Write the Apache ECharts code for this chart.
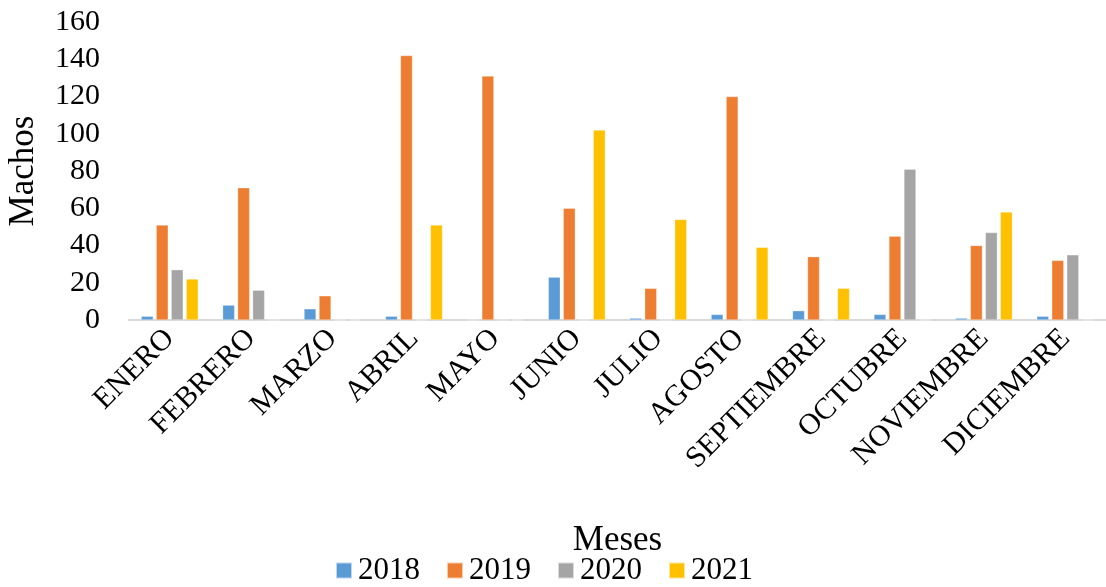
<!DOCTYPE html>
<html>
<head>
<meta charset="utf-8">
<script src="https://cdn.jsdelivr.net/npm/echarts@6/dist/echarts.min.js"></script>
<style>
  html, body { margin: 0; padding: 0; background: #fff; }
  #chart { width: 1106px; height: 587px; }
</style>
</head>
<body>
<div id="chart"></div>
<script>
// Monthly counts of males per year
const months = ['ENERO', 'FEBRERO', 'MARZO', 'ABRIL', 'MAYO', 'JUNIO', 'JULIO',
  'AGOSTO', 'SEPTIEMBRE', 'OCTUBRE', 'NOVIEMBRE', 'DICIEMBRE'];
const years = ['2018', '2019', '2020', '2021'];
const v2018 = [2, 8, 6, 2, 0, 23, 1, 3, 5, 3, 1, 2];
const v2019 = [51, 71, 13, 142, 131, 60, 17, 120, 34, 45, 40, 32];
const v2020 = [27, 16, 0, 0, 0, 0, 0, 0, 0, 81, 47, 35];
const v2021 = [22, 0, 0, 51, 0, 102, 54, 39, 17, 0, 58, 0];
const colors = ['#5B9BD5', '#ED7D31', '#A5A5A5', '#FFC000'];

const serif = '"Liberation Serif", "DejaVu Serif", serif';
const chart = echarts.init(document.getElementById('chart'), null, { renderer: 'canvas' });

const seriesData = [v2018, v2019, v2020, v2021];
chart.setOption({
  animation: false,
  color: colors,
  textStyle: { fontFamily: serif, color: '#000' },
  grid: {
    left: 129, right: 0, top: 22, bottom: 267,
    containLabel: false,
    outerBoundsMode: 'none'
  },
  legend: {
    data: years,
    top: 555,
    left: 335,
    itemWidth: 16,
    itemHeight: 16,
    itemGap: 26,
    padding: 0,
    icon: 'rect',
    textStyle: { fontFamily: serif, fontSize: 31, color: '#000', padding: [0, 0, 0, 1] }
  },
  xAxis: {
    type: 'category',
    data: months,
    name: 'Meses',
    nameLocation: 'middle',
    nameGap: 203,
    nameTextStyle: { fontFamily: serif, fontSize: 35, color: '#000' },
    axisLine: { lineStyle: { color: '#d9d9d9', width: 2 } },
    axisTick: { show: false },
    axisLabel: {
      rotate: 45,
      interval: 0,
      margin: 14,
      fontFamily: serif,
      fontSize: 30,
      color: '#000'
    }
  },
  yAxis: {
    type: 'value',
    min: 0,
    max: 160,
    interval: 20,
    name: 'Machos',
    nameLocation: 'middle',
    nameGap: 88,
    nameTextStyle: { fontFamily: serif, fontSize: 35, color: '#000' },
    splitLine: { show: false },
    axisLine: { show: false },
    axisTick: { show: false },
    axisLabel: { fontFamily: serif, fontSize: 30, color: '#000', margin: 29 }
  },
  series: years.map((y, i) => ({
    name: y,
    type: 'bar',
    data: seriesData[i],
    barGap: '25%',
    barCategoryGap: '30%',
    itemStyle: { borderColor: 'rgba(255,255,255,0.6)', borderWidth: 0.5 }
  }))
});
</script>
</body>
</html>
